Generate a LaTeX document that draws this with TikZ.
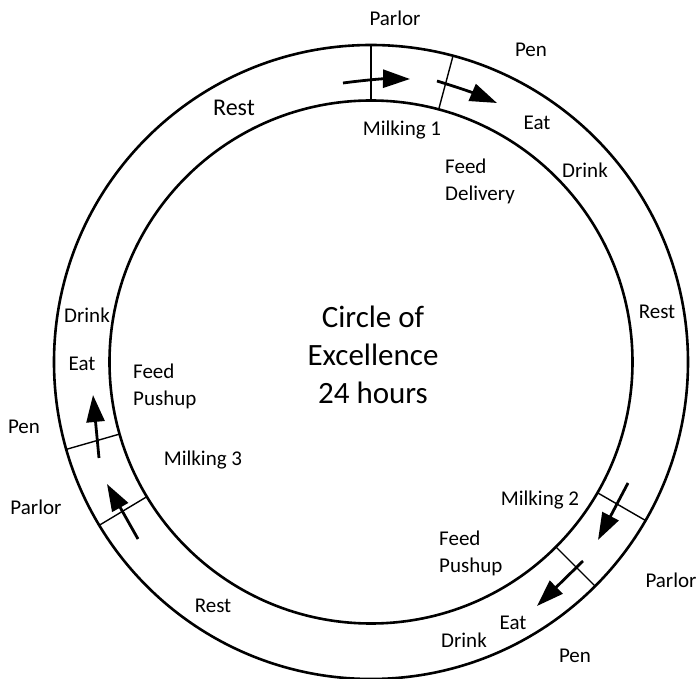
\documentclass[tikz,border=0pt]{standalone}
\usepackage{fontspec}
\setmainfont{Carlito}
\usetikzlibrary{arrows.meta}
\begin{document}
\begin{tikzpicture}[x=1pt,y=1pt,
  ring/.style={line width=2.6pt},
  divider/.style={line width=1.4pt},
  flow/.style={line width=2.8pt,-{Triangle[length=27pt,width=18pt]}},
  lbl/.style={font=\fontsize{21}{25}\selectfont,inner sep=0pt},
  lbltwo/.style={font=\fontsize{21}{27}\selectfont,inner sep=0pt,align=left,anchor=west},
  title/.style={font=\fontsize{31}{38}\selectfont,align=center,inner sep=0pt}]
\useasboundingbox (-371,-317) rectangle (328,362);
\coordinate (C) at (0,0);
% the two rings of the day cycle
\draw[ring] (C) circle[radius=317pt];
\draw[ring] (C) circle[radius=261.5pt];
% radial dividers between the phases
\foreach \ang/\nm in {90/d1,75/d2,196/d3,211/d4,-30/d5,-45/d6}{
  \coordinate (\nm i) at (\ang:261.5pt);
  \coordinate (\nm o) at (\ang:317pt);
  \draw[divider] (\nm i) -- (\nm o);
}
% movement arrows
\coordinate (a1s) at (-28,279); \coordinate (a1e) at (39,283);
\coordinate (a2s) at (66,281);  \coordinate (a2e) at (126,259);
\coordinate (a3s) at (-272,-96); \coordinate (a3e) at (-278,-33);
\coordinate (a4s) at (-233,-177); \coordinate (a4e) at (-264,-122);
\coordinate (a5s) at (257,-121); \coordinate (a5e) at (227,-178);
\coordinate (a6s) at (212,-199); \coordinate (a6e) at (166,-244);
\draw[flow] (a1s) to[bend left=4] (a1e);
\draw[flow] (a2s) to[bend left=3] (a2e);
\draw[flow] (a3s) -- (a3e);
\draw[flow] (a4s) -- (a4e);
\draw[flow] (a5s) -- (a5e);
\draw[flow] (a6s) -- (a6e);
% labels
\node[title] (center) at (2,7) {Circle of\\Excellence\\24 hours};
\node[lbl] (parlor1) at (24,344) {Parlor};
\node[lbl] (pen1) at (160,312) {Pen};
\node[lbl,font=\fontsize{24}{28}\selectfont] (rest1) at (-137,254) {Rest};
\node[lbl] (milk1) at (31,232) {Milking 1};
\node[lbl] (eat1) at (166,239) {Eat};
\node[lbl] (drink1) at (214,192) {Drink};
\node[lbltwo] (feed1) at (74,180.5) {Feed\\Delivery};
\node[lbl] (rest2) at (286,50) {Rest};
\node[lbl] (milk2) at (169,-138) {Milking 2};
\node[lbltwo] (feed2) at (68,-191) {Feed\\Pushup};
\node[lbl] (parlor2) at (300,-218) {Parlor};
\node[lbl] (eat2) at (142,-261) {Eat};
\node[lbl] (drink2) at (93,-278) {Drink};
\node[lbl] (pen2) at (204,-294) {Pen};
\node[lbl] (rest3) at (-158,-244) {Rest};
\node[lbl] (drink3) at (-284,47) {Drink};
\node[lbl] (eat3) at (-289,-2) {Eat};
\node[lbltwo] (feed3) at (-238,-24) {Feed\\Pushup};
\node[lbl] (pen3) at (-347,-65) {Pen};
\node[lbl] (milk3) at (-168,-98) {Milking 3};
\node[lbl] (parlor3) at (-335,-145) {Parlor};
\end{tikzpicture}
\end{document}
